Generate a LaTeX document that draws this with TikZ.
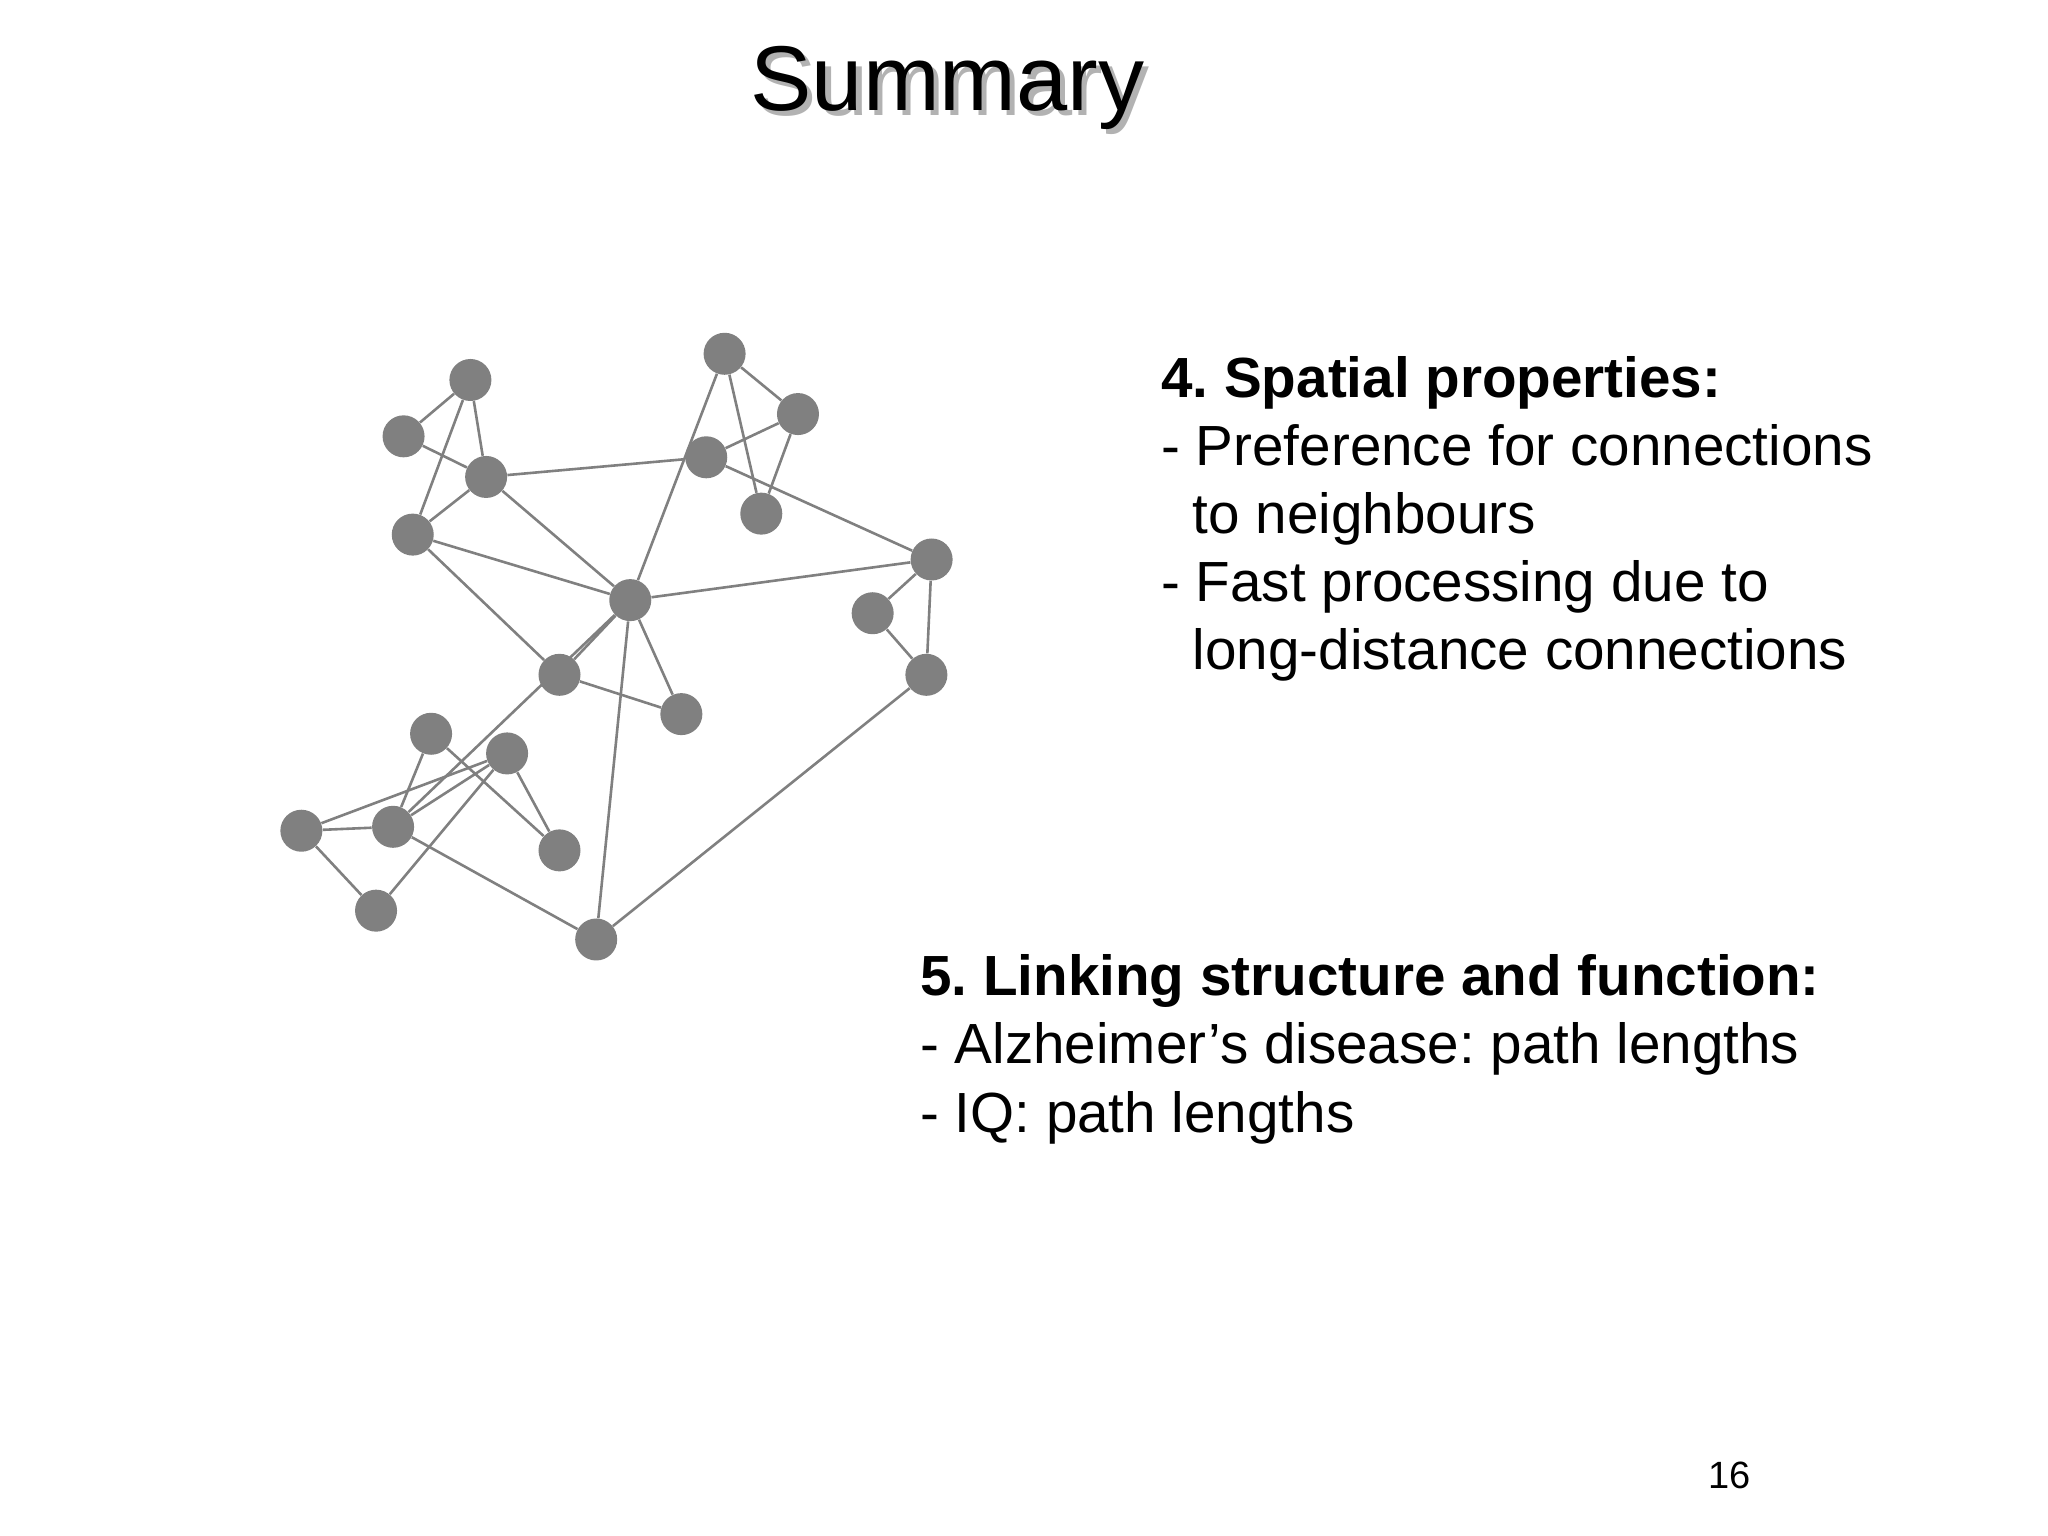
\documentclass[tikz,border=0pt]{standalone}
\usepackage{fontspec}
\setmainfont{Liberation Sans}
\frenchspacing
\begin{document}
\begin{tikzpicture}[x=0.655pt,y=-0.655pt,
  v/.style={circle,fill=black!50,inner sep=0pt,minimum width=20pt,minimum height=21pt},
  e/.style={draw=black!50,line width=1.3pt},
  t/.style={anchor=base west,inner sep=0pt,font=\fontsize{28.3}{32}\selectfont}]
\useasboundingbox (0,0) rectangle (1563,1172);
\node[font=\fontsize{46}{54}\selectfont,text=black!30,anchor=base] at (727,88) {Summary};
\node[font=\fontsize{46}{54}\selectfont,anchor=base] (title) at (723,84) {Summary};
\foreach \n/\x/\y in {A/359/290,B/308/333,C/371/364,D/315/408,E/481/458,F/553/270,G/609/316,H/539/349,I/581/392,J/711/427,K/666/468,L/707/515,M/427/515,N/520/545,O/329/560,P/387/575,Q/230/634,R/300/631,S/427/649,T/287/695,U/455/717}
  \node[v] (\n) at (\x,\y) {};
\foreach \a/\b in {A/B,A/C,A/D,B/C,C/D,C/H,C/E,D/E,D/M,E/F,E/J,E/M,E/R,E/U,E/N,M/N,F/G,F/I,G/H,G/I,H/J,J/K,J/L,K/L,L/U,P/R,P/T,Q/P,O/R,O/S,P/S,Q/R,Q/T,R/U}
  \draw[e] (\a) -- (\b);
\node[t] (s1) at (886,303) {\textbf{4. Spatial properties:}};
\node[t] (s2) at (886,355) {- Preference for connections};
\node[t] (s3) at (910,407) {to neighbours};
\node[t] (s4) at (886,459) {- Fast processing due to};
\node[t] (s5) at (910,511) {long-distance connections};
\node[t] (l1) at (702,760) {\textbf{5. Linking structure and function:}};
\node[t] (l2) at (702,812) {- Alzheimer’s disease: path lengths};
\node[t] (l3) at (702,864) {- IQ: path lengths};
\node[anchor=base,inner sep=0pt,font=\fontsize{19}{22}\selectfont] (pg) at (1320,1136) {16};
\end{tikzpicture}
\end{document}
